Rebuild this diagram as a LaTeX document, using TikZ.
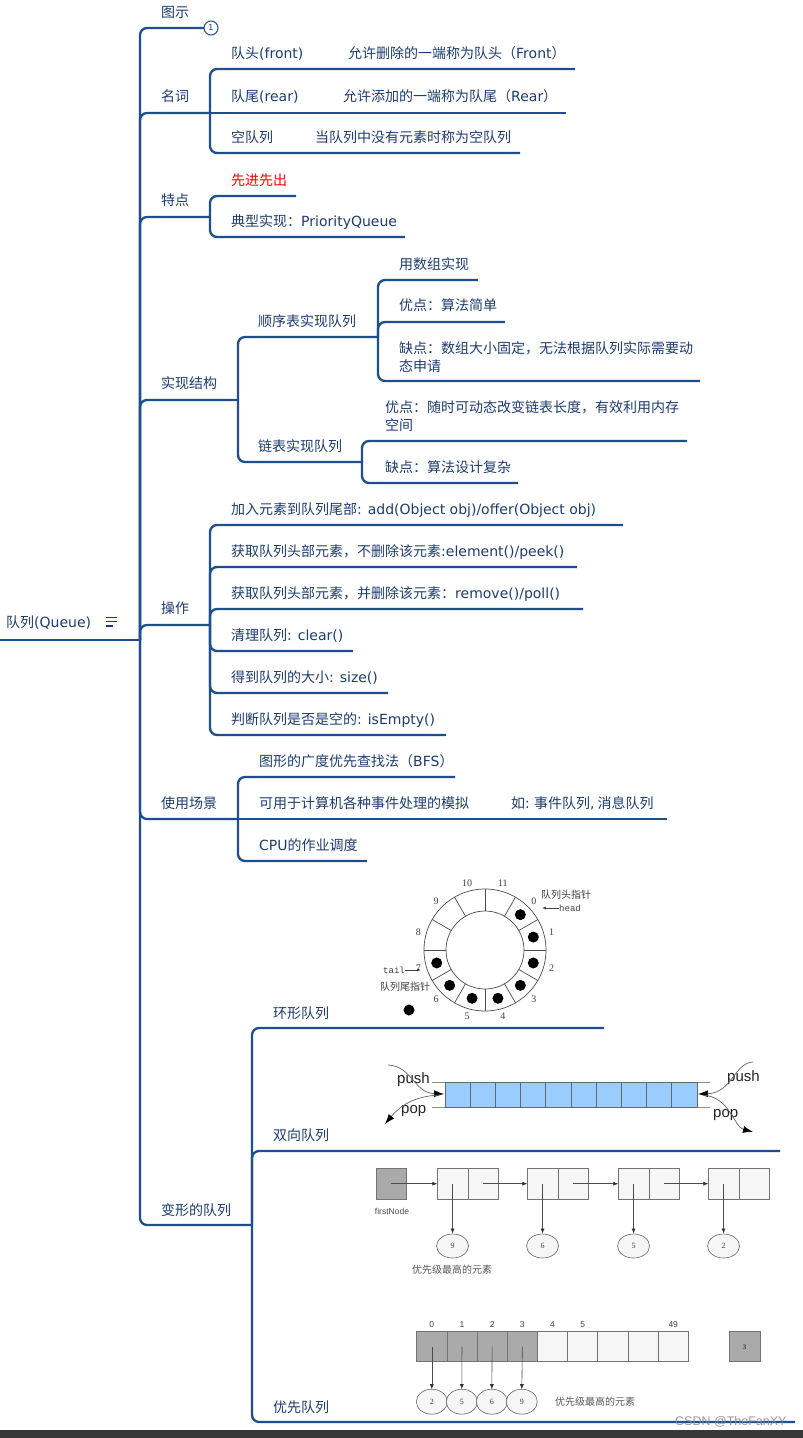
\documentclass[tikz,border=0pt]{standalone}
\usepackage{fontspec}
\setmainfont{Noto Sans CJK SC}
\newfontfamily\lat{DejaVu Sans}
\newfontfamily\lsans{Liberation Sans}
\newfontfamily\lserif{Liberation Serif}
\newfontfamily\lmono{Liberation Mono}
\usetikzlibrary{arrows.meta}
\definecolor{lc}{RGB}{30,78,143}
\definecolor{tc}{RGB}{30,60,112}
\definecolor{dqblue}{RGB}{153,204,255}
\definecolor{cellgray}{RGB}{170,170,170}
\definecolor{cellwhite}{RGB}{246,246,246}
\tikzset{
  ln/.style={draw=lc, line width=2.3pt, rounded corners=7pt},
  tx/.style={anchor=base west, inner sep=0pt, text=tc, font=\fontsize{14}{16}\selectfont},
  gline/.style={draw=black!70, line width=0.7pt},
  tipa/.style={-{Latex[length=10pt,width=7pt,color=black]}},
  tipb/.style={-{Latex[length=5pt,width=4pt,color=black!80]}},
  imgtxt/.style={inner sep=0pt, text=black!75},
}
\begin{document}
\begin{tikzpicture}[x=1pt,y=-1pt]
\useasboundingbox (0,0) rectangle (803,1438);
\fill[white] (0,0) rectangle (803,1438);

% ---------------- root ----------------
\coordinate (T) at (140,640);
\coordinate (R0) at (0,640);
\draw[ln] (R0) -- (T);
\node[tx] (root) at (6,627) {队列{\lat (Queue)}};
\draw[tc, line width=1.4pt] (106,617.5) -- (117,617.5) (106,621.7) -- (117,621.7) (106,626) -- (113,626);

% ---------------- 图示 ----------------
\coordinate (e1) at (204,28);
\draw[ln] (T) |- (e1);
\node[circle, draw=lc, line width=1pt, fill=white, minimum size=14pt, inner sep=0pt, text=tc, font=\lat\fontsize{8}{8}\selectfont] (c1) at (211,28) {1};
\node[tx] (tushi) at (161,17) {图示};

% ---------------- 名词 ----------------
\coordinate (J1) at (210,113);
\draw[ln] (T) |- (J1);
\node[tx] (mingci) at (161,101) {名词};
\coordinate (e11) at (575,69);
\coordinate (e12) at (566,113);
\coordinate (e13) at (520,153);
\draw[ln] (J1) |- (e11);
\draw[ln] (J1) -- (e12);
\draw[ln] (J1) |- (e13);
\node[tx] (dt) at (231,58) {队头{\lat (front)}};
\node[tx] (dtd) at (348,58) {允许删除的一端称为队头（{\lat Front}）};
\node[tx] (dw) at (231,101) {队尾{\lat (rear)}};
\node[tx] (dwd) at (343,101) {允许添加的一端称为队尾（{\lat Rear}）};
\node[tx] (kd) at (231,142) {空队列};
\node[tx] (kdd) at (315,142) {当队列中没有元素时称为空队列};

% ---------------- 特点 ----------------
\coordinate (J2) at (210,217);
\draw[ln] (T) |- (J2);
\node[tx] (tedian) at (161,205) {特点};
\coordinate (e21) at (296,196);
\coordinate (e22) at (405,237);
\draw[ln] (J2) |- (e21);
\draw[ln] (J2) |- (e22);
\node[tx, text=red] (xjxc) at (231,185) {先进先出};
\node[tx] (dxsx) at (231,226) {典型实现：{\lat PriorityQueue}};

% ---------------- 实现结构 ----------------
\coordinate (J3) at (238,400);
\draw[ln] (T) |- (J3);
\node[tx] (sxjg) at (161,388) {实现结构};
\coordinate (J31) at (378,337);
\coordinate (J32) at (362,462);
\draw[ln] (J3) |- (J31);
\draw[ln] (J3) |- (J32);
\node[tx] (sxb) at (258,326) {顺序表实现队列};
\node[tx] (lb) at (258,451) {链表实现队列};
\coordinate (e311) at (478,280);
\coordinate (e312) at (505,322);
\coordinate (e313) at (700,381);
\draw[ln] (J31) |- (e311);
\draw[ln] (J31) |- (e312);
\draw[ln] (J31) |- (e313);
\node[tx] (sz) at (399,269) {用数组实现};
\node[tx] (yd1) at (399,310) {优点：算法简单};
\node[tx] (qd1a) at (399,353) {缺点：数组大小固定，无法根据队列实际需要动};
\node[tx] (qd1b) at (399,371) {态申请};
\coordinate (e321) at (687,441);
\coordinate (e322) at (518,483);
\draw[ln] (J32) |- (e321);
\draw[ln] (J32) |- (e322);
\node[tx] (yd2a) at (385,412) {优点：随时可动态改变链表长度，有效利用内存};
\node[tx] (yd2b) at (385,430) {空间};
\node[tx] (qd2) at (385,472) {缺点：算法设计复杂};

% ---------------- 操作 ----------------
\coordinate (J4) at (210,625);
\draw[ln] (T) |- (J4);
\node[tx] (cz) at (161,613) {操作};
\coordinate (e41) at (623,525);
\coordinate (e42) at (577,567);
\coordinate (e43) at (583,609);
\coordinate (e44) at (353,651);
\coordinate (e45) at (388,693);
\coordinate (e46) at (446,735);
\foreach \e in {e41,e42,e43,e44,e45,e46} \draw[ln] (J4) |- (\e);
\node[tx] (op1) at (231,514) {加入元素到队列尾部{\lat : add(Object obj)/offer(Object obj)}};
\node[tx] (op2) at (231,556) {获取队列头部元素，不删除该元素{\lat :element()/peek()}};
\node[tx] (op3) at (231,598) {获取队列头部元素，并删除该元素：{\lat remove()/poll()}};
\node[tx] (op4) at (231,640) {清理队列{\lat : clear()}};
\node[tx] (op5) at (231,682) {得到队列的大小{\lat : size()}};
\node[tx] (op6) at (231,724) {判断队列是否是空的{\lat : isEmpty()}};

% ---------------- 使用场景 ----------------
\coordinate (J5) at (238,819);
\draw[ln] (T) |- (J5);
\node[tx] (sycj) at (161,808) {使用场景};
\coordinate (e51) at (455,777);
\coordinate (e52) at (667,819);
\coordinate (e53) at (367,861);
\draw[ln] (J5) |- (e51);
\draw[ln] (J5) -- (e52);
\draw[ln] (J5) |- (e53);
\node[tx] (bfs) at (259,766) {图形的广度优先查找法（{\lat BFS}）};
\node[tx] (mn) at (259,808) {可用于计算机各种事件处理的模拟};
\node[tx] (mnd) at (511,808) {如{\lat :} 事件队列{\lat ,} 消息队列};
\node[tx] (cpu) at (259,850) {{\lat CPU}的作业调度};

% ---------------- 变形的队列 ----------------
\coordinate (J6) at (252,1225);
\draw[ln] (T) |- (J6);
\node[tx] (bx) at (161,1215) {变形的队列};
\coordinate (e61) at (604,1028);
\coordinate (e62) at (780,1151);
\coordinate (e63) at (795,1422);
\draw[ln] (J6) |- (e61);
\draw[ln] (J6) |- (e62);
\draw[ln] (J6) |- (e63);
\node[tx] (hx) at (273,1018) {环形队列};
\node[tx] (sx) at (273,1140) {双向队列};
\node[tx] (yx) at (273,1412) {优先队列};

% ---------------- ring queue picture ----------------
\coordinate (rc) at (485,950);
\draw[gline] (rc) circle[radius=61];
\draw[gline] (rc) circle[radius=39];
\foreach \a in {0,30,...,330} \draw[gline] ([shift={(\a:39)}]rc) -- ([shift={(\a:61)}]rc);
\foreach \k [evaluate=\k as \ang using 30*\k-45] in {0,...,7}
  \fill[black] ([shift={(\ang:50)}]rc) circle[radius=5.5];
\foreach \k [evaluate=\k as \ang using 30*\k-45] in {0,...,11}
  \node[imgtxt, font=\lserif\fontsize{10}{11}\selectfont] at ([shift={(\ang:69)}]rc) {\k};
\fill[black] (409,1010) circle[radius=5.5];
\node[imgtxt, anchor=west, font=\fontsize{10}{11}\selectfont] (hp) at (541,895) {队列头指针};
\node[imgtxt, anchor=west, font=\lmono\fontsize{9}{10}\selectfont] (head) at (559,908) {head};
\coordinate (ha) at (542,908);
\draw[black!75, line width=0.6pt, -{Latex[length=4pt,width=3pt]}] (head.west) -- (ha);
\node[imgtxt, anchor=east, font=\lmono\fontsize{9}{10}\selectfont] (tail) at (405,970) {tail};
\coordinate (ta) at (421,970);
\draw[black!75, line width=0.6pt, -{Latex[length=4pt,width=3pt]}] (tail.east) -- (ta);
\node[imgtxt, font=\fontsize{10}{11}\selectfont] (tp) at (405,987) {队列尾指针};

% ---------------- deque picture ----------------
\draw[draw=black!45, line width=0.8pt] (432,1082.7) -- (710,1082.7) (432,1107.3) -- (710,1107.3);
\foreach \i in {0,...,9}
  \draw[fill=dqblue, draw=black!60, line width=0.7pt] (445+25.2*\i,1082.7) rectangle ++(25.2,24.6);
\node[imgtxt, anchor=west, text=black!85, font=\lsans\fontsize{15}{16}\selectfont] (push1) at (397,1080) {push};
\node[imgtxt, anchor=west, text=black!85, font=\lsans\fontsize{15}{16}\selectfont] (pop1) at (401,1111) {pop};
\node[imgtxt, anchor=west, text=black!85, font=\lsans\fontsize{15}{16}\selectfont] (push2) at (727,1078) {push};
\node[imgtxt, anchor=west, text=black!85, font=\lsans\fontsize{15}{16}\selectfont] (pop2) at (713,1115) {pop};
\draw[black!60, line width=0.7pt, tipa] (388,1065) .. controls (412,1066) and (414,1093) .. (444,1094);
\draw[black!60, line width=0.7pt, tipa] (440,1095) .. controls (414,1096) and (400,1106) .. (385,1124);
\draw[black!60, line width=0.7pt, tipa] (753,1062) .. controls (734,1063) and (732,1093) .. (698,1094);
\draw[black!60, line width=0.7pt, tipa] (703,1095) .. controls (730,1097) and (734,1127) .. (753,1132);

% ---------------- linked list picture ----------------
\draw[fill=cellgray, draw=black!55, line width=0.6pt] (376,1168.3) rectangle (406,1199.3);
\coordinate (fn) at (391,1183.7);
\node[imgtxt, text=black!70, font=\lsans\fontsize{8.5}{9}\selectfont] (fnl) at (392,1211.7) {firstNode};
\foreach \x/\v in {437.3/9,527.3/6,618.3/5,708.3/2} {
  \draw[fill=cellwhite, draw=black!55, line width=0.6pt] (\x,1168.3) rectangle ++(30.5,31);
  \draw[fill=cellwhite, draw=black!55, line width=0.6pt] (\x+30.5,1168.3) rectangle ++(30.5,31);
  \draw[fill=cellwhite, draw=black!60, line width=0.6pt] (\x+15.25,1246) circle[x radius=16, y radius=12];
  \node[imgtxt, font=\lserif\fontsize{8}{9}\selectfont] at (\x+15.25,1246) {\v};
  \draw[black!70, line width=0.6pt, tipb] (\x+15.25,1183.7) -- (\x+15.25,1233.5);
}
\draw[black!70, line width=0.6pt, tipb] (fn) -- (437.3,1183.7);
\foreach \x/\n in {437.3/527.3,527.3/618.3,618.3/708.3}
  \draw[black!70, line width=0.6pt, tipb] (\x+45.75,1183.7) -- (\n,1183.7);
\node[imgtxt, text=black!65, font=\fontsize{10}{11}\selectfont] (yxj1) at (452,1270) {优先级最高的元素};

% ---------------- priority array picture ----------------
\foreach \i in {0,...,8} {
  \pgfmathsetmacro{\fc}{\i<4 ? "cellgray" : "cellwhite"}
  \draw[fill=\fc, draw=black!55, line width=0.6pt] (416.7+30.18*\i,1331.7) rectangle ++(30.18,30);
}
\foreach \i/\l in {0/0,1/1,2/2,3/3,4/4,5/5,8/49}
  \node[imgtxt, font=\lsans\fontsize{8.5}{9}\selectfont] at (431.8+30.18*\i,1325) {\l};
\draw[fill=cellgray, draw=black!55, line width=0.6pt] (729,1331.7) rectangle (760,1361.7);
\node[imgtxt, font=\lserif\bfseries\fontsize{7}{8}\selectfont] (b3) at (744.5,1346.7) {3};
\foreach \i/\v in {0/2,1/5,2/6,3/9} {
  \draw[fill=cellwhite, draw=black!60, line width=0.6pt] (431.8+30.0*\i,1401.7) circle[x radius=15.5, y radius=12.5];
  \node[imgtxt, font=\lserif\fontsize{8}{9}\selectfont] at (431.8+30.0*\i,1401.7) {\v};
}
\foreach \i in {0,...,3}
  \draw[black!70, line width=0.6pt, tipb] (431.8+30.18*\i,1346.7) -- (431.8+30.0*\i,1389.2);
\node[imgtxt, anchor=west, text=black!65, font=\fontsize{10}{11}\selectfont] (yxj2) at (555,1401.7) {优先级最高的元素};

% ---------------- watermark and bottom bar ----------------
\node[imgtxt, anchor=west, text=black!45, opacity=0.9, font=\lsans\fontsize{12.5}{13}\selectfont] (wm) at (675,1422) {CSDN @TheFanXY};
\fill[black!78] (0,1430) rectangle (803,1438);
\end{tikzpicture}
\end{document}
